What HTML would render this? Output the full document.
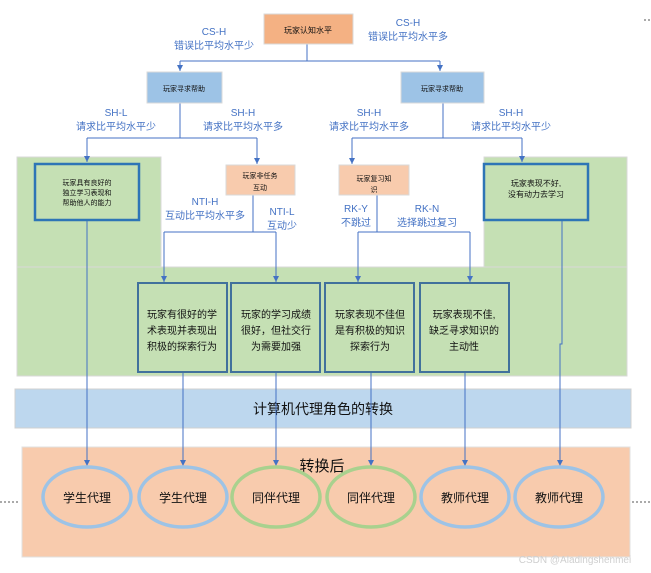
<!DOCTYPE html>
<html><head><meta charset="utf-8"><style>
html,body{margin:0;padding:0;background:#fff;}
svg{display:block;font-family:"Liberation Sans","Noto Sans CJK SC",sans-serif;}
</style></head><body>
<svg width="651" height="573" viewBox="0 0 651 573" xmlns="http://www.w3.org/2000/svg">
<defs>
<marker id="a" markerWidth="6" markerHeight="6" refX="3" refY="5" orient="auto" markerUnits="userSpaceOnUse">
<path d="M0,0 L6,0 L3,6 Z" fill="#4472c4" transform="rotate(-90 3 3)"/>
</marker>
<marker id="d" viewBox="0 0 6 6" markerWidth="6" markerHeight="6" refX="3" refY="6" orient="0" markerUnits="userSpaceOnUse">
<path d="M0,0 L6,0 L3,6 Z" fill="#4472c4"/>
</marker>
</defs>
<!-- green panels -->
<rect x="17" y="157" width="144" height="110" fill="#c5e0b4" stroke="#d9d9d9"/>
<rect x="484" y="157" width="143" height="110" fill="#c5e0b4" stroke="#d9d9d9"/>
<rect x="17" y="267" width="610" height="109" fill="#c5e0b4" stroke="#d9d9d9"/>
<!-- blue band -->
<rect x="15" y="389" width="616" height="39" fill="#bdd7ee" stroke="#d0d0d0"/>
<text x="323" y="414" font-size="14" text-anchor="middle" fill="#111">计算机代理角色的转换</text>
<!-- orange panel -->
<rect x="22" y="447" width="608" height="110" fill="#f8cbad" stroke="#e0e0e0"/>
<text x="322" y="471" font-size="15" text-anchor="middle" fill="#111">转换后</text>
<!-- dotted -->
<line x1="0" y1="502" x2="20" y2="502" stroke="#555" stroke-dasharray="2,2"/>
<line x1="632" y1="502" x2="651" y2="502" stroke="#555" stroke-dasharray="2,2"/>
<line x1="644" y1="20" x2="651" y2="20" stroke="#555" stroke-dasharray="2,2"/>

<g stroke="#4472c4" stroke-width="1" fill="none">
<polyline points="307,44 307,61"/>
<polyline points="180,61 440,61"/>
<line x1="180" y1="61" x2="180" y2="71" marker-end="url(#d)"/>
<line x1="440" y1="61" x2="440" y2="71" marker-end="url(#d)"/>
<polyline points="180,103 180,138"/>
<polyline points="87,138 257,138"/>
<line x1="87" y1="138" x2="87" y2="162" marker-end="url(#d)"/>
<line x1="257" y1="138" x2="257" y2="164" marker-end="url(#d)"/>
<polyline points="443,103 443,138"/>
<polyline points="352,138 522,138"/>
<line x1="352" y1="138" x2="352" y2="164" marker-end="url(#d)"/>
<line x1="522" y1="138" x2="522" y2="162" marker-end="url(#d)"/>
<polyline points="253,195 253,232"/>
<polyline points="164,232 276,232"/>
<line x1="164" y1="232" x2="164" y2="282" marker-end="url(#d)"/>
<line x1="276" y1="232" x2="276" y2="282" marker-end="url(#d)"/>
<polyline points="377,195 377,232"/>
<polyline points="358,232 470,232"/>
<line x1="358" y1="232" x2="358" y2="282" marker-end="url(#d)"/>
<line x1="470" y1="232" x2="470" y2="282" marker-end="url(#d)"/>
<line x1="87" y1="220" x2="87" y2="466" marker-end="url(#d)"/>
<polyline points="562,220 562,344 560,344 560,466"/>
<line x1="560" y1="460" x2="560" y2="466" marker-end="url(#d)"/>
<line x1="183" y1="372" x2="183" y2="466" marker-end="url(#d)"/>
<line x1="276" y1="372" x2="276" y2="466" marker-end="url(#d)"/>
<line x1="371" y1="372" x2="371" y2="466" marker-end="url(#d)"/>
<line x1="465" y1="372" x2="465" y2="466" marker-end="url(#d)"/>
</g>

<!-- top box -->
<rect x="264" y="14" width="89" height="30" fill="#f4b183" stroke="#d9d9d9"/>
<text x="308" y="33" font-size="8" text-anchor="middle" fill="#111">玩家认知水平</text>
<!-- blue boxes -->
<rect x="147" y="72" width="75" height="31" fill="#9dc3e6" stroke="#d9d9d9"/>
<text x="184" y="91" font-size="7" text-anchor="middle" fill="#111">玩家寻求帮助</text>
<rect x="401" y="72" width="83" height="31" fill="#9dc3e6" stroke="#d9d9d9"/>
<text x="442" y="91" font-size="7" text-anchor="middle" fill="#111">玩家寻求帮助</text>

<!-- labels -->
<g fill="#4472c4" font-size="10" text-anchor="middle">
<text x="214" y="35">CS-H</text><text x="214" y="49">错误比平均水平少</text>
<text x="408" y="26">CS-H</text><text x="408" y="40">错误比平均水平多</text>
<text x="116" y="116">SH-L</text><text x="116" y="130">请求比平均水平少</text>
<text x="243" y="116">SH-H</text><text x="243" y="130">请求比平均水平多</text>
<text x="369" y="116">SH-H</text><text x="369" y="130">请求比平均水平多</text>
<text x="511" y="116">SH-H</text><text x="511" y="130">请求比平均水平少</text>
<text x="205" y="205">NTI-H</text><text x="205" y="219">互动比平均水平多</text>
<text x="282" y="215">NTI-L</text><text x="282" y="229">互动少</text>
<text x="356" y="212">RK-Y</text><text x="356" y="226">不跳过</text>
<text x="427" y="212">RK-N</text><text x="427" y="226">选择跳过复习</text>
</g>

<!-- pink boxes -->
<rect x="226" y="165" width="69" height="30" fill="#f8cbad" stroke="#d9d9d9"/>
<text x="260" y="178" font-size="7" text-anchor="middle" fill="#111">玩家非任务</text>
<text x="260" y="190" font-size="7" text-anchor="middle" fill="#111">互动</text>
<rect x="339" y="165" width="70" height="30" fill="#f8cbad" stroke="#d9d9d9"/>
<text x="374" y="181" font-size="7" text-anchor="middle" fill="#111">玩家复习知</text>
<text x="374" y="192" font-size="7" text-anchor="middle" fill="#111">识</text>

<!-- thick border boxes -->
<rect x="35" y="164" width="104" height="56" fill="#c5e0b4" stroke="#2e75b6" stroke-width="2.5"/>
<g font-size="7" text-anchor="middle" fill="#111">
<text x="87" y="185">玩家具有良好的</text><text x="87" y="195">独立学习表现和</text><text x="87" y="205">帮助他人的能力</text>
</g>
<rect x="484" y="164" width="104" height="56" fill="#c5e0b4" stroke="#2e75b6" stroke-width="2.5"/>
<g font-size="8" text-anchor="middle" fill="#111">
<text x="536" y="186">玩家表现不好,</text><text x="536" y="197">没有动力去学习</text>
</g>

<!-- four boxes -->
<g fill="#c5e0b4" stroke="#41719c" stroke-width="2">
<rect x="138" y="283" width="89" height="89"/>
<rect x="231" y="283" width="89" height="89"/>
<rect x="325" y="283" width="89" height="89"/>
<rect x="420" y="283" width="89" height="89"/>
</g>
<g font-size="10" text-anchor="middle" fill="#111">
<text x="182" y="318">玩家有很好的学</text><text x="182" y="334">术表现并表现出</text><text x="182" y="350">积极的探索行为</text>
<text x="276" y="318">玩家的学习成绩</text><text x="276" y="334">很好，但社交行</text><text x="276" y="350">为需要加强</text>
<text x="370" y="318">玩家表现不佳但</text><text x="370" y="334">是有积极的知识</text><text x="370" y="350">探索行为</text>
<text x="464" y="318">玩家表现不佳,</text><text x="464" y="334">缺乏寻求知识的</text><text x="464" y="350">主动性</text>
</g>

<!-- circles -->
<g fill="none" stroke-width="3.5">
<ellipse cx="87" cy="497" rx="44" ry="30" stroke="#9dc3e6"/>
<ellipse cx="183" cy="497" rx="44" ry="30" stroke="#9dc3e6"/>
<ellipse cx="276" cy="497" rx="44" ry="30" stroke="#a9d18e"/>
<ellipse cx="371" cy="497" rx="44" ry="30" stroke="#a9d18e"/>
<ellipse cx="465" cy="497" rx="44" ry="30" stroke="#9dc3e6"/>
<ellipse cx="559" cy="497" rx="44" ry="30" stroke="#9dc3e6"/>
</g>
<g font-size="12" text-anchor="middle" fill="#111">
<text x="87" y="502">学生代理</text><text x="183" y="502">学生代理</text>
<text x="276" y="502">同伴代理</text><text x="371" y="502">同伴代理</text>
<text x="465" y="502">教师代理</text><text x="559" y="502">教师代理</text>
</g>
<text x="575" y="563" font-size="10" text-anchor="middle" fill="#cfcfcf">CSDN @Aladingshenmei</text>
</svg>
</body></html>
